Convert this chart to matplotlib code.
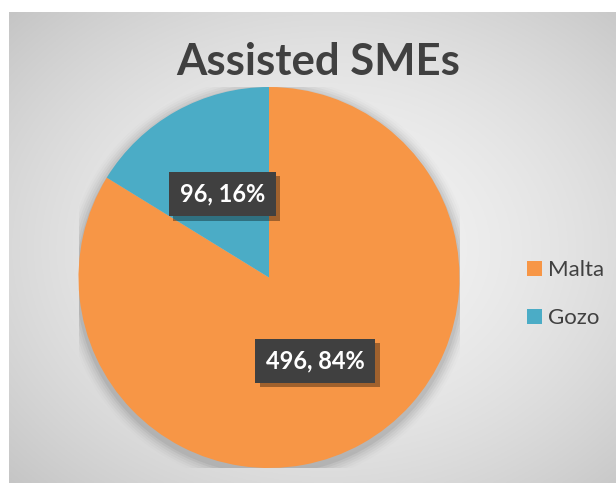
import numpy as np
import matplotlib
matplotlib.use("Agg")
import matplotlib.pyplot as plt
import matplotlib.patheffects as pe

# -------- data --------
regions = ["Malta", "Gozo"]
smes = [496, 96]
colors = ["#F79646", "#4BACC6"]
title = "Assisted SMEs"

total = sum(smes)
W, H = 616, 483

plt.rcParams["font.family"] = ["Lato", "DejaVu Sans"]

fig = plt.figure(figsize=(W / 100, H / 100), dpi=100)
fig.patch.set_facecolor("white")

# -------- radial gradient background --------
bg = fig.add_axes([9 / W, 0, (W - 9) / W, (H - 12) / H])
yy, xx = np.mgrid[0:300, 0:400]
cx, cy = 210, 150
r = np.sqrt(((xx - cx) / 200) ** 2 + ((yy - cy) / 150) ** 2) / np.sqrt(2)
shade = 0.955 - 0.175 * r ** 1.7
bg.imshow(np.dstack([shade] * 3), aspect="auto", extent=[0, 1, 0, 1])
bg.axis("off")

# -------- pie --------
rad = 190.5
cxp, cyp = 269, 277.5
ax = fig.add_axes([(cxp - rad) / W, (H - cyp - rad) / H, 2 * rad / W, 2 * rad / H])

# soft shadow under the pie
for i, a in enumerate(np.linspace(0.05, 0.01, 6)):
    ax.add_patch(plt.Circle((0.0, -0.02), 1.0 + 0.012 * (i + 1),
                            color="black", alpha=a, lw=0, zorder=0))

wedges, texts, autotexts = ax.pie(
    smes, colors=colors, startangle=90, counterclock=False,
    radius=1.0, pctdistance=0.5,
    autopct=lambda p: f"{round(p * total / 100)}, {p:.0f}%",
    wedgeprops=dict(linewidth=0, zorder=2),
    textprops=dict(color="white", fontsize=17, fontweight="bold"),
)
for t in autotexts:
    t.set_zorder(5)
    t.set_bbox(dict(boxstyle="square,pad=0.45", fc="#404040", ec="none"))
    t.get_bbox_patch().set_path_effects([
        pe.SimplePatchShadow(offset=(3, -3), shadow_rgbFace="black", alpha=0.35),
        pe.Normal()])

ax.set_xlim(-1, 1)
ax.set_ylim(-1, 1)
ax.set_aspect("equal")
ax.axis("off")

# -------- title --------
fig.text(318 / W, 1 - 62 / H, title, ha="center", va="center",
         fontsize=31.5, fontweight="bold", color="#404040")

# -------- legend --------
fig.legend(wedges, regions, loc="center left",
           bbox_to_anchor=(516 / W, 1 - 294 / H), frameon=False,
           fontsize=16, labelcolor="#404040",
           handlelength=0.65, handleheight=0.65, handletextpad=0.3,
           labelspacing=1.25, borderpad=0)

fig.savefig("out.png", dpi=100)
